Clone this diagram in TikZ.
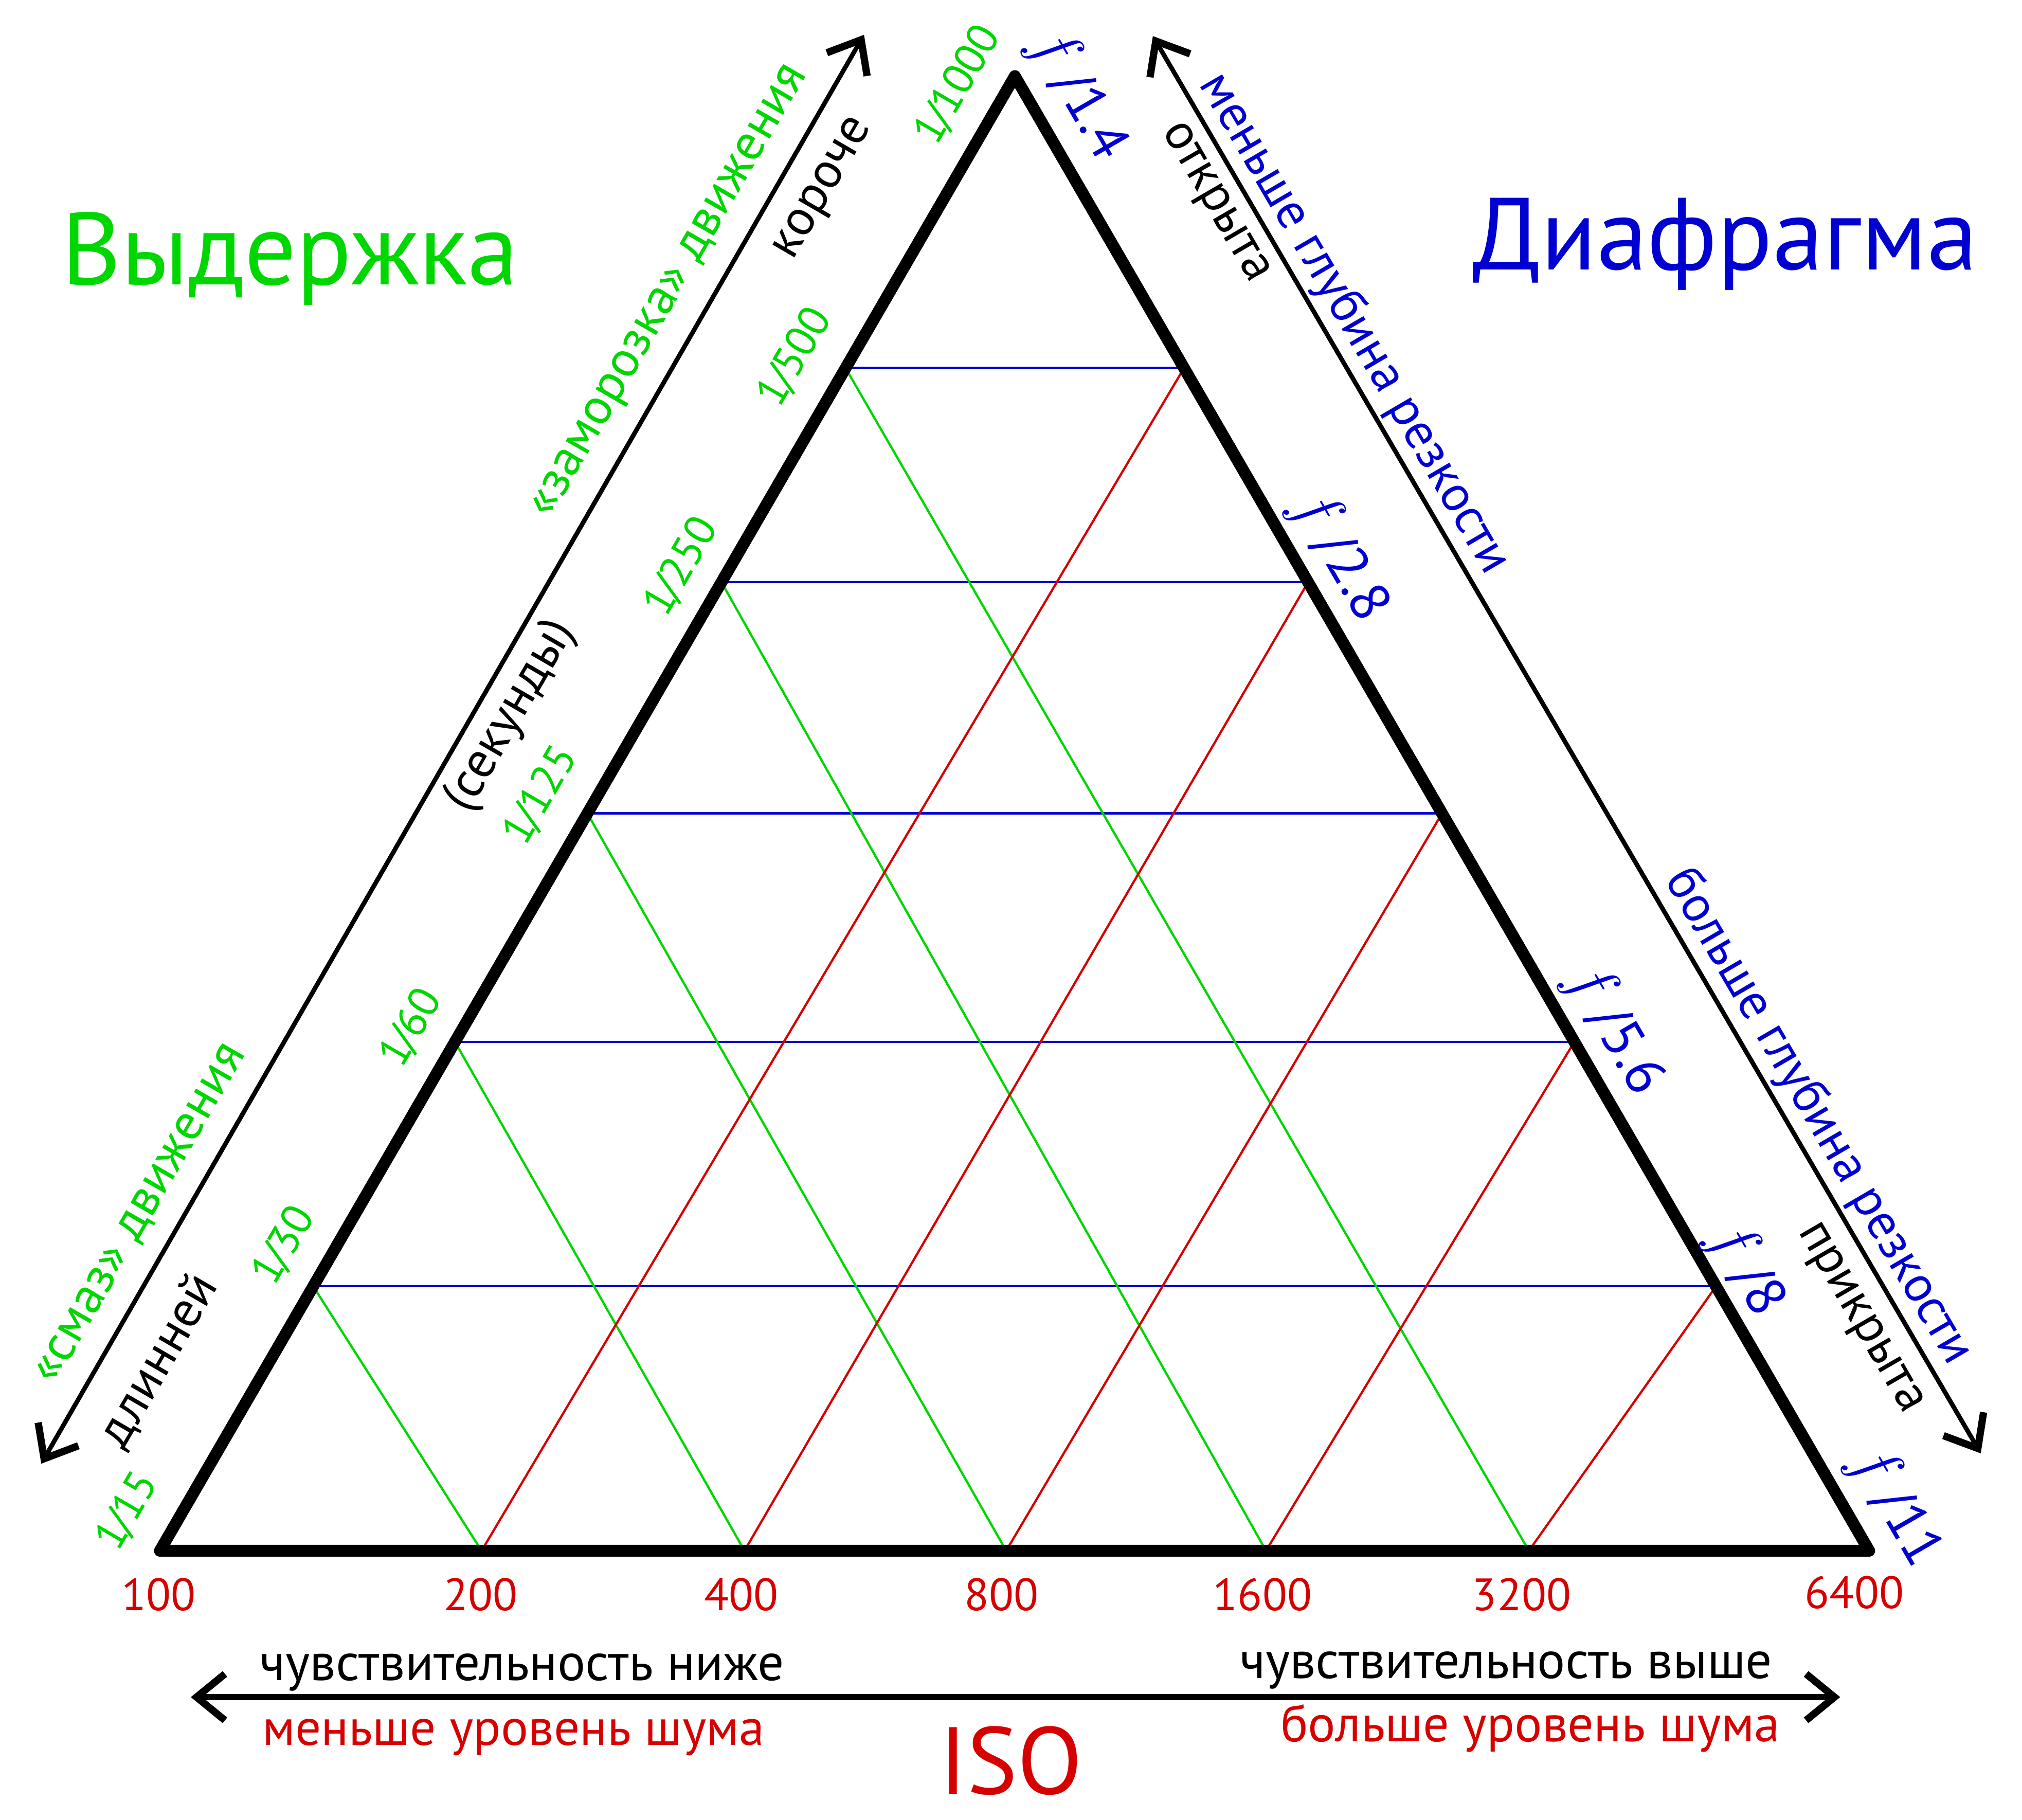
\documentclass[tikz,border=0pt]{standalone}
\usepackage{fontspec}
\setmainfont{PT Sans}
\usetikzlibrary{calc,arrows.meta}
\definecolor{shutgreen}{RGB}{0,214,0}
\definecolor{apblue}{RGB}{0,0,208}
\definecolor{isored}{RGB}{214,0,0}
\newcommand{\shutfrac}[1]{1\kern-0.08em/\kern-0.04em#1}
\newcommand{\fstop}[1]{{\fontsize{14}{15}\selectfont$f$}\,/#1}

\begin{document}
\begin{tikzpicture}[x=0.1mm, y=-0.1mm,
    every node/.style={inner sep=0pt},
    smalltxt/.style={font=\fontsize{11.2}{13}\selectfont},
    alongL/.style={smalltxt, rotate=60},
    alongR/.style={smalltxt, rotate=-59.7},
    shutlbl/.style={text=shutgreen, font=\fontsize{9.6}{11}\selectfont, rotate=59.84},
    aplbl/.style={text=apblue, font=\fontsize{12.4}{14}\selectfont, rotate=-59.84},
    isolbl/.style={text=isored, font=\fontsize{10}{12}\selectfont},
    bigtitle/.style={font=\fontsize{22.6}{26}\selectfont, anchor=base west},
    gridln/.style={line width=0.5pt},
    twoway/.style={line width=1pt, {Straight Barb[length=2.2mm,width=3.6mm,line width=1.6pt]}-{Straight Barb[length=2.2mm,width=3.6mm,line width=1.6pt]}}]
    \fill[white] (0,0) rectangle (1568,1411);
    \useasboundingbox (0,0) rectangle (1568,1411);

    \coordinate (A) at (124,1202.5);
    \coordinate (B) at (1449.5,1202.5);
    \coordinate (C) at (787,59);

    \coordinate (l1) at ($(A)!0.1793!(C)$);
    \coordinate (l2) at ($(A)!0.3451!(C)$);
    \coordinate (l3) at ($(A)!0.5000!(C)$);
    \coordinate (l4) at ($(A)!0.6568!(C)$);
    \coordinate (l5) at ($(A)!0.8020!(C)$);
    \coordinate (r1) at ($(B)!0.1793!(C)$);
    \coordinate (r2) at ($(B)!0.3451!(C)$);
    \coordinate (r3) at ($(B)!0.5000!(C)$);
    \coordinate (r4) at ($(B)!0.6568!(C)$);
    \coordinate (r5) at ($(B)!0.8020!(C)$);
    \coordinate (p1) at ($(A)!0.1882!(B)$);
    \coordinate (p2) at ($(A)!0.3420!(B)$);
    \coordinate (p3) at ($(A)!0.4951!(B)$);
    \coordinate (p4) at ($(A)!0.6471!(B)$);
    \coordinate (p5) at ($(A)!0.8009!(B)$);

    \draw[gridln, apblue] (l1) -- (r1);
    \draw[gridln, apblue] (l2) -- (r2);
    \draw[gridln, apblue] (l3) -- (r3);
    \draw[gridln, apblue] (l4) -- (r4);
    \draw[gridln, apblue] (l5) -- (r5);
    \draw[gridln, shutgreen] (l1) -- (p1);
    \draw[gridln, shutgreen] (l2) -- (p2);
    \draw[gridln, shutgreen] (l3) -- (p3);
    \draw[gridln, shutgreen] (l4) -- (p4);
    \draw[gridln, shutgreen] (l5) -- (p5);
    \draw[gridln, isored] (p1) -- (r5);
    \draw[gridln, isored] (p2) -- (r4);
    \draw[gridln, isored] (p3) -- (r3);
    \draw[gridln, isored] (p4) -- (r2);
    \draw[gridln, isored] (p5) -- (r1);

    \draw[line width=2.6pt, line join=round] (A) -- (B) -- (C) -- cycle;

    \coordinate (sl) at (32,1135);
    \coordinate (sh) at (670,27);
    \coordinate (ao) at (894,28);
    \coordinate (ac) at (1536,1127);
    \coordinate (il) at (148,1316);
    \coordinate (ih) at (1427,1316);
    \draw[twoway] (sl) -- (sh);
    \draw[twoway] (ao) -- (ac);
    \draw[twoway, line width=1.3pt] (il) -- (ih);

    \node (shutter) [bigtitle, text=shutgreen] at (47,220.7) {Выдержка};
    \node (aperture) [bigtitle, text=apblue] at (1141,209.1) {Диафрагма};

    \node (s15) [shutlbl] at (99,1172) {\shutfrac{15}};
    \node (s30) [shutlbl] at (220.4,965.7) {\shutfrac{30}};
    \node (s60) [shutlbl] at (319,797) {\shutfrac{60}};
    \node (s125) [shutlbl] at (419.5,617) {\shutfrac{125}};
    \node (s250) [shutlbl] at (528.6,439.5) {\shutfrac{250}};
    \node (s500) [shutlbl] at (616.5,277) {\shutfrac{500}};
    \node (s1000) [shutlbl] at (743,66) {\shutfrac{1000}};

    \node (f14) [aplbl] at (836,73) {\fstop{1.4}};
    \node (f28) [aplbl] at (1039,431) {\fstop{2.8}};
    \node (f56) [aplbl] at (1252,798) {\fstop{5.6}};
    \node (f8) [aplbl] at (1354,984) {\fstop{8}};
    \node (f11) [aplbl] at (1470,1168) {\fstop{11}};

    \node (freeze) [alongL, text=shutgreen] at (521,227) {«заморозка» движения};
    \node (shorter) [alongL, rotate=-0.16] at (640,147) {короче};
    \node (seconds) [alongL, rotate=-0.16] at (396,555) {(секунды)};
    \node (blur) [alongL, text=shutgreen] at (110,942) {«смаз» движения};
    \node (longer) [alongL, rotate=-0.16] at (123,1055) {длинней};

    \node (lessdof) [alongR, text=apblue] at (1050,251) {меньше глубина резкости};
    \node (open) [alongR, rotate=-0.14] at (941,158) {открыта};
    \node (moredof) [alongR, text=apblue] at (1410,866) {больше глубина резкости};
    \node (closed) [alongR, rotate=-0.14] at (1441,1023) {прикрыта};

    \node (i100) [isolbl] at (123,1236.6) {100};
    \node (i200) [isolbl] at (372.7,1236.6) {200};
    \node (i400) [isolbl] at (574.7,1236.6) {400};
    \node (i800) [isolbl] at (776.5,1236.6) {800};
    \node (i1600) [isolbl] at (979,1236.6) {1600};
    \node (i3200) [isolbl] at (1180,1236.6) {3200};
    \node (i6400) [isolbl] at (1438,1235) {6400};

    \node (lowsens) [font=\fontsize{11.5}{13}\selectfont, anchor=base west] at (201,1303) {чувствительность ниже};
    \node (lownoise) [font=\fontsize{11.27}{13}\selectfont, anchor=base west, text=isored] at (202.7,1353.3) {меньше уровень шума};
    \node (highsens) [font=\fontsize{11.5}{13}\selectfont, anchor=base east] at (1375,1301.5) {чувствительность выше};
    \node (highnoise) [font=\fontsize{11.35}{13}\selectfont, anchor=base east, text=isored] at (1381,1350.6) {больше уровень шума};
    \node (iso) [font=\fontsize{21}{24}\selectfont, text=isored, anchor=base] at (784,1391) {ISO};
\end{tikzpicture}
\end{document}
